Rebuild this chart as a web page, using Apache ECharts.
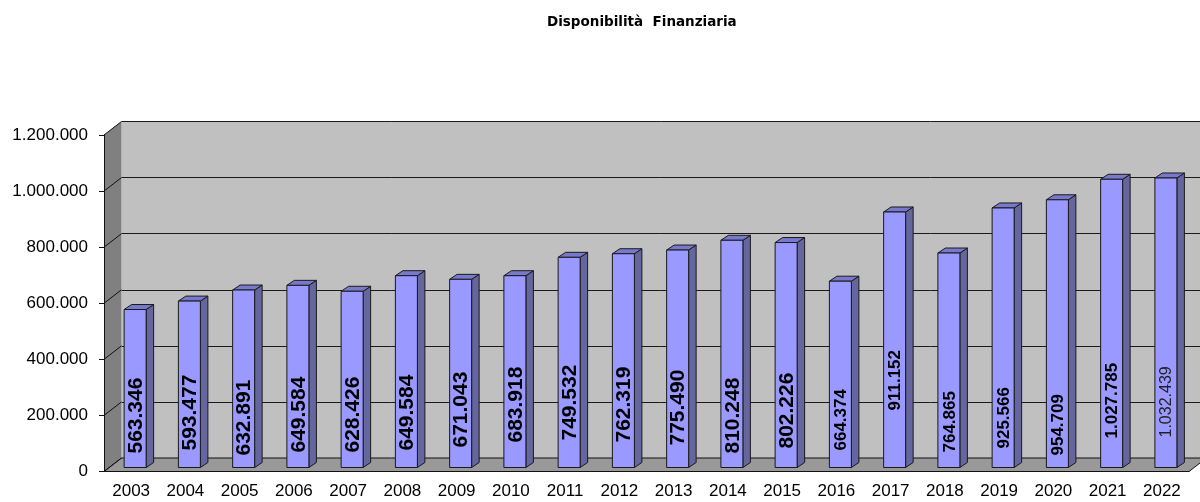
<!DOCTYPE html>
<html>
<head>
<meta charset="utf-8">
<title>Disponibilità Finanziaria</title>
<script src="https://cdn.jsdelivr.net/npm/echarts@6/dist/echarts.min.js"></script>
<style>
  html, body { margin: 0; padding: 0; background: #fff; }
  #chart { width: 1200px; height: 502px; }
</style>
</head>
<body>
<div id="chart"></div>
<script>
// dati
const years = ['2003', '2004', '2005', '2006', '2007', '2008', '2009', '2010', '2011', '2012',
  '2013', '2014', '2015', '2016', '2017', '2018', '2019', '2020', '2021', '2022'];
const values = [563346, 593477, 632891, 649584, 628426, 684000, 671043, 683918, 749532, 762319,
  775490, 810248, 802226, 664374, 911152, 764865, 925566, 954709, 1027785, 1032439];
// etichette come scritte sulle colonne (2008 riporta 649.584)
const valueLabels = ['563.346', '593.477', '632.891', '649.584', '628.426', '649.584', '671.043', '683.918', '749.532', '762.319',
  '775.490', '810.248', '802.226', '664.374', '911.152', '764.865', '925.566', '954.709', '1.027.785', '1.032.439'];
const yTicks = [0, 200000, 400000, 600000, 800000, 1000000, 1200000];
const yTickLabels = ['0', '200.000', '400.000', '600.000', '800.000', '1.000.000', '1.200.000'];

// stile etichette (dimensione, rialzo dalla base)
const lblSize = [21, 21, 21, 21, 21, 21, 21, 21, 21, 21, 21, 21, 21, 17, 17, 17, 17, 17, 17, 16];
const lblLift = [14, 17, 12, 15, 15, 17, 20, 25, 27, 25, 22, 14, 19, 17, 57, 15, 19, 12, 29, 30];

const FONT = '"Liberation Sans", Arial, sans-serif';
const DX = 17.5, DY = 13.5;      // profondità pareti
const BX = 4, BY = 4;            // spostamento colonne
const BW = 22, BDX = 7.5, BDY = 5;

let myChart = echarts.init(document.getElementById('chart'));

function walls(params, api) {
  let p0 = api.coord([0, 0]);
  let bw = api.size([1, 0])[0];
  let left = p0[0] - bw / 2;
  let right = api.coord([years.length - 1, 0])[0] + bw / 2;
  let y0 = p0[1];
  let yTop = api.coord([0, yTicks[yTicks.length - 1]])[1];
  let children = [
    {
      type: 'polygon',
      shape: { points: [[left, y0], [left, yTop], [left + DX, yTop - DY], [left + DX, y0 - DY]] },
      style: { fill: '#808080', stroke: null }
    },
    {
      type: 'polygon',
      shape: { points: [[left, y0], [right, y0], [right + DX, y0 - DY], [left + DX, y0 - DY]] },
      style: { fill: '#999999', stroke: '#111', lineWidth: 1 }
    }
  ];
  yTicks.forEach(function (v) {
    let y = api.coord([0, v])[1];
    children.push({
      type: 'line',
      shape: { x1: left, y1: y, x2: left + DX, y2: y - DY },
      style: { stroke: '#111', lineWidth: 1 }
    });
  });
  return { type: 'group', children: children };
}

function bars(params, api) {
  let i = api.value(0);
  let v = api.value(1);
  let base = api.coord([i, 0]);
  let top = api.coord([i, v]);
  let xl = base[0] + BX - BW / 2;
  let xr = xl + BW;
  let yb = base[1] - BY;
  let yt = top[1] - BY;
  let line = { stroke: '#1a1a1a', lineWidth: 1 };
  let last = i === years.length - 1;
  return {
    type: 'group',
    children: [
      {
        type: 'polygon',
        shape: { points: [[xr, yb], [xr + BDX, yb - BDY], [xr + BDX, yt - BDY], [xr, yt]] },
        style: Object.assign({ fill: '#66669e' }, line)
      },
      {
        type: 'polygon',
        shape: { points: [[xl, yt], [xr, yt], [xr + BDX, yt - BDY], [xl + BDX, yt - BDY]] },
        style: Object.assign({ fill: '#7878cc' }, line)
      },
      {
        type: 'rect',
        shape: { x: xl, y: yt, width: BW, height: yb - yt },
        style: Object.assign({ fill: '#9999ff' }, line)
      },
      {
        type: 'text',
        x: xl + BW / 2 + 1,
        y: yb - lblLift[i],
        rotation: Math.PI / 2,
        style: {
          text: valueLabels[i],
          align: 'left',
          verticalAlign: 'middle',
          fill: last ? '#222' : '#000',
          font: (last ? 'normal ' : 'bold ') + lblSize[i] + 'px ' + FONT
        }
      }
    ]
  };
}

let option = {
  animation: false,
  backgroundColor: '#ffffff',
  title: {
    text: 'Disponibilità  Finanziaria',
    left: 547,
    top: 15,
    padding: 0,
    textStyle: { fontFamily: '"DejaVu Sans", Tahoma, sans-serif', fontSize: 13.5, fontWeight: 'bold', color: '#000' }
  },
  grid: [
    // parte frontale (assi)
    { left: 104, right: 11, top: 135, bottom: 30.5 },
    // parete di fondo
    { left: 121.5, right: -6.5, top: 121.5, bottom: 44, show: true, backgroundColor: '#c0c0c0', borderWidth: 0 }
  ],
  xAxis: [
    {
      gridIndex: 0,
      type: 'category',
      data: years,
      z: 10,
      axisLine: { lineStyle: { color: '#111', width: 1 } },
      axisTick: { length: 6, interval: 0, lineStyle: { color: '#111' } },
      axisLabel: { interval: 0, margin: 11, color: '#000', fontFamily: FONT, fontSize: 17 }
    },
    {
      gridIndex: 1,
      type: 'category',
      data: years,
      axisLine: { show: false },
      axisTick: { show: false },
      axisLabel: { show: false }
    }
  ],
  yAxis: [
    {
      gridIndex: 0,
      type: 'value',
      min: 0,
      max: 1200000,
      interval: 200000,
      z: 10,
      axisLine: { show: true, lineStyle: { color: '#111', width: 1 } },
      axisTick: { show: true, length: 5, lineStyle: { color: '#111' } },
      splitLine: { show: false },
      axisLabel: {
        margin: 16,
        color: '#000',
        fontFamily: FONT,
        fontSize: 17,
        formatter: function (val) { return yTickLabels[yTicks.indexOf(val)]; }
      }
    },
    {
      gridIndex: 1,
      type: 'value',
      min: 0,
      max: 1200000,
      interval: 200000,
      axisLine: { show: false },
      axisTick: { show: false },
      axisLabel: { show: false },
      splitLine: { show: true, lineStyle: { color: '#1a1a1a', width: 1 } }
    }
  ],
  series: [
    {
      type: 'custom',
      xAxisIndex: 0,
      yAxisIndex: 0,
      z: 1,
      silent: true,
      renderItem: walls,
      data: [[0, 0]]
    },
    {
      type: 'custom',
      xAxisIndex: 0,
      yAxisIndex: 0,
      z: 3,
      renderItem: bars,
      data: values.map(function (v, i) { return [i, v]; })
    }
  ]
};
myChart.setOption(option);

window.addEventListener('resize', function () { myChart.resize(); });
</script>
</body>
</html>
